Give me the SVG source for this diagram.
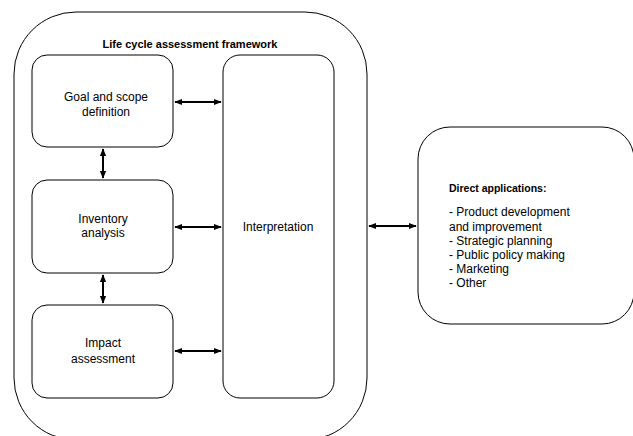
<svg xmlns="http://www.w3.org/2000/svg" width="633" height="436" viewBox="0 0 633 436">
<defs>
<marker id="ah" viewBox="0 0 10 10" refX="9" refY="5" markerWidth="4" markerHeight="4" orient="auto-start-reverse" markerUnits="strokeWidth">
<path d="M0,1 L10,5 L0,9 Z" fill="#000"/>
</marker>
</defs>
<style>
.box{fill:#fff;stroke:#000;stroke-width:1}
.t{font-family:"Liberation Sans",Arial,sans-serif;font-size:12px;fill:#000}
.b{font-weight:bold}
.c{text-anchor:middle}
.con{stroke:#000;stroke-width:2;fill:none;marker-start:url(#ah);marker-end:url(#ah)}
</style>
<rect width="633" height="436" fill="#fff"/>
<g id="framework">
<rect class="box" x="14" y="12" width="353" height="428" rx="62" ry="62"/>
<text class="t b c" x="190" y="48" style="font-size:11px">Life cycle assessment framework</text>
</g>
<g id="goal">
<rect class="box" x="32" y="55" width="141" height="92" rx="15" ry="15"/>
<text class="t c" x="106" y="101">Goal and scope</text>
<text class="t c" x="106" y="116">definition</text>
</g>
<g id="inventory">
<rect class="box" x="32" y="180" width="141" height="93" rx="15" ry="15"/>
<text class="t c" x="103" y="223">Inventory</text>
<text class="t c" x="103" y="237">analysis</text>
</g>
<g id="impact">
<rect class="box" x="32" y="305" width="141" height="93" rx="15" ry="15"/>
<text class="t c" x="103" y="347">Impact</text>
<text class="t c" x="103" y="363">assessment</text>
</g>
<g id="interpretation">
<rect class="box" x="223" y="55" width="111" height="343" rx="17" ry="17"/>
<text class="t c" x="278" y="231">Interpretation</text>
</g>
<g id="applications">
<rect class="box" x="418" y="127" width="216" height="197" rx="32" ry="32"/>
<text class="t b" x="449" y="192" style="font-size:10.5px">Direct applications:</text>
<text class="t" x="449" y="216">- Product development</text>
<text class="t" x="449" y="230.5">and improvement</text>
<text class="t" x="449" y="245">- Strategic planning</text>
<text class="t" x="449" y="259">- Public policy making</text>
<text class="t" x="449" y="273">- Marketing</text>
<text class="t" x="449" y="287">- Other</text>
</g>
<g id="connectors">
<line class="con" x1="175" y1="102" x2="221" y2="102"/>
<line class="con" x1="175" y1="227" x2="221" y2="227"/>
<line class="con" x1="175" y1="351" x2="221" y2="351"/>
<line class="con" x1="103" y1="149" x2="103" y2="178"/>
<line class="con" x1="103" y1="275" x2="103" y2="303"/>
<line class="con" x1="369" y1="226" x2="416" y2="226"/>
</g>
</svg>
